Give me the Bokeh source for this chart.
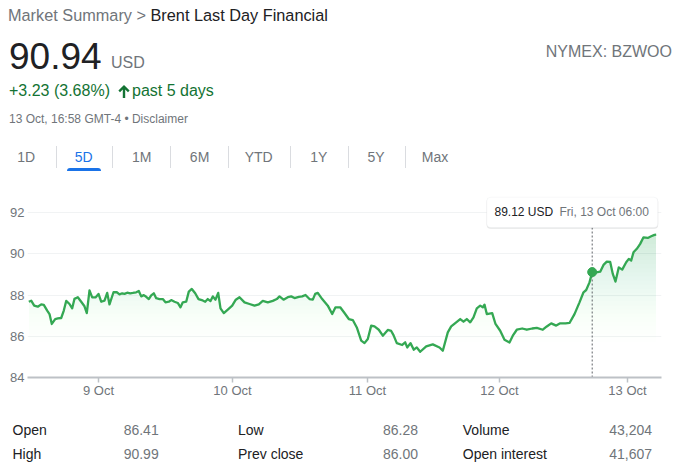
import html
import numpy as np
from bokeh.plotting import figure
from bokeh.models import Range1d, FixedTicker, Div, Label, BoxAnnotation
from bokeh.layouts import column
from bokeh.embed import file_html
from bokeh.resources import INLINE

# ---------------- data ----------------
# t: sample position along the 5-day session axis (chart units, ~134 per day)
t = [0.3, 2.7, 5.7, 9.3, 12.7, 15.3, 18.7, 21, 23.3, 26.7, 29.3, 32.7, 35.3, 37.7, 41, 43.7,
     46, 49.3, 52.7, 56, 58.3, 61, 63.7, 67, 70, 72.7, 76, 78.7, 81, 85, 88.3, 91, 93.7, 96,
     98.7, 101.7, 104.3, 107.7, 110.3, 112.7, 115.3, 117.7, 120.3, 122.7, 125.3, 127.7, 131,
     134.3, 137, 140.3, 142.7, 146, 149.3, 152, 154.3, 157.7, 160.3, 163.3, 166.7, 170, 173.3,
     176.7, 179.3, 182, 184.3, 187, 189.7, 192, 195.3, 199.3, 203.7, 207.3, 211, 216, 221, 226,
     230.3, 234.3, 239.3, 244.3, 248.3, 251, 255, 259.3, 262.7, 266, 270.3, 273.7, 277, 281,
     284.3, 286.7, 289.3, 293.7, 299.3, 303.7, 307, 311.7, 316, 320.3, 324.3, 328.3, 332.7, 336,
     339.3, 342.7, 346, 350.3, 354.3, 359.3, 362.7, 365, 368.3, 373.7, 376.7, 378.7, 382, 385.3,
     388.3, 391.7, 397.7, 404.3, 411, 414.3, 419.3, 422.7, 427.7, 431.7, 435, 438.3, 441.7, 445,
     448.3, 451.7, 454.3, 456, 458.3, 463.7, 467, 471.7, 476, 481, 484.3, 488.3, 493.7, 498.3,
     503.7, 508.3, 514.3, 518.3, 522.7, 527.7, 531.7, 537, 541, 546, 551, 555, 557.7, 561, 563.7,
     567.7, 571.7, 575, 578.3, 581.7, 584.3, 587, 590.3, 593.7, 597.7, 600.3, 602.7, 605, 608.3,
     611.7, 615, 619.3, 622.7, 626, 627.7]
price = [87.68, 87.73, 87.49, 87.44, 87.55, 87.53, 87.25, 87.08, 86.60, 86.84, 86.87, 86.89,
         87.25, 87.72, 87.57, 87.36, 87.82, 87.90, 87.68, 87.46, 87.13, 88.23, 87.89, 87.89,
         88.06, 87.68, 87.73, 88.11, 87.55, 88.14, 88.14, 88.04, 88.09, 88.06, 88.12, 88.09,
         88.11, 88.14, 88.20, 87.94, 88.00, 87.92, 87.81, 87.99, 88.09, 87.85, 87.81, 87.81,
         87.65, 87.68, 87.76, 87.68, 87.62, 87.41, 87.65, 87.68, 88.17, 88.30, 88.09, 87.81,
         87.76, 87.68, 87.81, 87.71, 87.94, 87.78, 88.11, 87.36, 87.13, 87.30, 87.49, 87.78,
         87.90, 87.65, 87.57, 87.49, 87.55, 87.72, 87.65, 87.72, 87.81, 87.94, 87.78, 87.90,
         87.94, 87.86, 87.92, 87.94, 88.01, 87.81, 87.78, 88.06, 88.11, 87.81, 87.49, 87.08,
         87.41, 87.41, 87.13, 86.84, 86.79, 86.43, 85.79, 85.67, 85.87, 86.52, 86.48, 86.32,
         86.03, 86.31, 86.26, 86.06, 85.67, 85.58, 85.71, 85.46, 85.67, 85.35, 85.46, 85.25,
         85.51, 85.61, 85.46, 85.30, 86.19, 86.48, 86.68, 86.84, 86.71, 86.84, 86.68, 86.92,
         87.36, 87.49, 87.41, 87.54, 87.08, 87.13, 86.60, 86.27, 85.83, 85.70, 86.03, 86.32,
         86.38, 86.32, 86.38, 86.41, 86.32, 86.48, 86.63, 86.52, 86.63, 86.63, 86.65, 87.08,
         87.65, 88.14, 88.25, 88.62, 89.12, 89.11, 89.14, 89.47, 89.63, 89.61, 89.03, 88.66,
         89.35, 89.24, 89.60, 89.76, 89.68, 90.08, 90.25, 90.49, 90.81, 90.78, 90.86, 90.93,
         90.94]

day_ticks = [70, 204, 339, 471, 599]
day_labels = ["9 Oct", "10 Oct", "11 Oct", "12 Oct", "13 Oct"]
y_ticks = [84, 86, 88, 90, 92]

hover_t = 563.7
hover_price = 89.12
hover_currency = "USD"
hover_time = "Fri, 13 Oct 06:00"

title_prefix = "Market Summary > "
title_name = "Brent Last Day Financial"
last_price = "90.94"
currency = "USD"
change_text = "+3.23 (3.68%)"
period_text = "past 5 days"
timestamp_text = "13 Oct, 16:58 GMT-4 • Disclaimer"
exchange_text = "NYMEX: BZWOO"
tabs = ["1D", "5D", "1M", "6M", "YTD", "1Y", "5Y", "Max"]
active_tab = "5D"
stat_labels = ["Open", "High", "Low", "Prev close", "Volume", "Open interest"]
stat_values = ["86.41", "90.99", "86.28", "86.00", "43,204", "41,607"]

# ---------------- styles ----------------
FONT = "'Liberation Sans', Arial, sans-serif"
DARK = "#202124"
GREY = "#70757a"
GREEN_TXT = "#137333"
BLUE = "#1a73e8"
LINE = "#34a853"
W = 673
DX = 3      # horizontal nudge for html blocks
DY = 3.5    # vertical nudge for header text


def span(text, top, size, color, left=None, right=None, extra=""):
    pos = f"left:{left + DX}px;" if left is not None else f"right:{right - DX}px;"
    return (f'<span style="position:absolute;{pos}top:{top}px;font-size:{size}px;'
            f'line-height:{size}px;color:{color};white-space:nowrap;{extra}">{text}</span>')


# ---------------- header ----------------
parts = []
parts.append(span(f'<span style="color:{GREY}">{html.escape(title_prefix)}</span>'
                  f'<span style="color:{DARK}">{html.escape(title_name)}</span>',
                  top=-1.5 + DY, size=16.3, color=DARK, left=0))
parts.append(span(last_price, top=29 + DY, size=37, color=DARK, left=1))
parts.append(span(currency, top=46.5 + DY, size=16, color=GREY, left=103))
parts.append(span(exchange_text, top=35 + DY, size=16, color=GREY, right=9))
parts.append(span(html.escape(change_text), top=74.2 + DY, size=16, color=GREEN_TXT, left=1))
parts.append(f'<svg style="position:absolute;left:{110 + DX}px;top:{76 + DY}px" width="12" height="13" '
             'viewBox="0 0 12 13"><path d="M6 0 L11.6 5.6 L10 7.2 L7.2 4.4 L7.2 13 L4.8 13 '
             f'L4.8 4.4 L2 7.2 L0.4 5.6 Z" fill="{GREEN_TXT}"/></svg>')
parts.append(span(period_text, top=74.2 + DY, size=16, color=GREEN_TXT, left=124))
parts.append(span(html.escape(timestamp_text), top=104.1 + DY, size=12, color=GREY, left=1))

tab_centers = [18.2, 75.6, 133.8, 191.6, 250.7, 310.9, 368.0, 427.0]
sep_x = [47.6, 104.4, 162.2, 220.0, 281.8, 339.6, 397.3]
for lab, c in zip(tabs, tab_centers):
    col = BLUE if lab == active_tab else GREY
    parts.append(span(lab, top=141.8 + DY, size=14, color=col, left=c - 30,
                      extra="width:60px;text-align:center;"))
    if lab == active_tab:
        parts.append(f'<div style="position:absolute;left:{c - 17 + DX}px;top:{159 + DY}px;width:34px;'
                     f'height:3px;background:{BLUE};border-radius:3px 3px 0 0"></div>')
for sx in sep_x:
    parts.append(f'<div style="position:absolute;left:{sx + DX}px;top:{137 + DY}px;width:1px;height:22px;'
                 f'background:#dadce0"></div>')

HEADER_H = 175
header_html = (f'<div style="position:relative;width:{W}px;height:{HEADER_H}px;font-family:{FONT};">'
               + "".join(parts) + "</div>")
header = Div(text=header_html, width=W, height=HEADER_H)

# ---------------- chart ----------------
p = figure(width=W, height=230, output_backend="svg", toolbar_location=None,
           x_range=Range1d(-1, 633), y_range=Range1d(84, 92.84),
           min_border_left=27, min_border_right=12, min_border_top=10, min_border_bottom=38)
p.outline_line_color = None
p.background_fill_color = "white"
p.border_fill_color = "white"

# gradient fill under line (stacked translucent bands)
tt = np.array(t)
pp = np.array(price)
levels = np.arange(85.3, 91.01, 0.2)
A = 0.22 * np.clip((levels - 85.2) / 5.8, 0, 1) ** 1.6
prev = 0.0
for L, a_cum in zip(levels, A):
    a = 1 - (1 - a_cum) / (1 - prev)
    prev = a_cum
    p.varea(x=tt, y1=L, y2=np.maximum(pp, L), fill_color=LINE, fill_alpha=float(a))

p.line(x=t, y=price, line_color=LINE, line_width=2.3, line_join="round")

# hover marker + tooltip
p.segment(x0=[hover_t], y0=[84], x1=[hover_t], y1=[91.28], line_color="#5f6368",
          line_width=1, line_dash="2 2")
p.scatter(x=[hover_t], y=[hover_price], size=9, fill_color=LINE, line_color=LINE)

shadow = BoxAnnotation(left=hover_t - 105.6, right=hover_t + 66.0, bottom=91.22, top=92.73,
                       fill_color="black", fill_alpha=0.10, line_color=None, border_radius=4)
box = BoxAnnotation(left=hover_t - 105.4, right=hover_t + 65.6, bottom=91.28, top=92.76,
                    fill_color="white", fill_alpha=1.0, line_color="#e8eaed", line_width=1,
                    border_radius=4)
p.add_layout(shadow)
p.add_layout(box)
p.add_layout(Label(x=hover_t, y=92.02, x_offset=-97.7, text=f"{hover_price:.2f} {hover_currency}",
                   text_font="Liberation Sans", text_font_size="12px",
                   text_color=DARK, text_baseline="middle"))
p.add_layout(Label(x=hover_t, y=92.02, x_offset=-32.7, text=hover_time,
                   text_font="Liberation Sans", text_font_size="12px",
                   text_color=GREY, text_baseline="middle"))

# axes
p.xaxis.ticker = FixedTicker(ticks=day_ticks)
p.xaxis.major_label_overrides = {k: v for k, v in zip(day_ticks, day_labels)}
p.xaxis.axis_line_color = "#bdc1c6"
p.xaxis.axis_line_width = 2
p.xaxis.major_tick_line_color = "#bdc1c6"
p.xaxis.major_tick_line_width = 1.5
p.xaxis.major_tick_out = 5
p.xaxis.major_tick_in = 0
p.xaxis.minor_tick_line_color = None
p.xaxis.major_label_standoff = 0
p.yaxis.ticker = FixedTicker(ticks=y_ticks)
p.yaxis.axis_line_color = None
p.yaxis.major_tick_line_color = None
p.yaxis.minor_tick_line_color = None
p.yaxis.major_tick_out = 0
p.yaxis.major_tick_in = 0
p.yaxis.major_label_standoff = 3
for ax in (p.xaxis, p.yaxis):
    ax.major_label_text_font = "Liberation Sans"
    ax.major_label_text_font_size = "13px"
    ax.major_label_text_color = GREY
p.xgrid.visible = False
p.ygrid.ticker = FixedTicker(ticks=y_ticks)
p.ygrid.grid_line_color = "#f1f3f4"
p.ygrid.grid_line_width = 1

# ---------------- stats table ----------------
tparts = []
col_left = [4.5, 230, 454.8]
col_right = [W - 150.7, W - 410, W - 644]
row_top = [3.2, 27.2]
for i in range(6):
    c, r = divmod(i, 2)
    tparts.append(span(html.escape(stat_labels[i]), top=row_top[r], size=14, color=DARK, left=col_left[c]))
    tparts.append(span(html.escape(stat_values[i]), top=row_top[r], size=14, color=GREY, right=col_right[c]))
TABLE_H = 51
table_html = (f'<div style="position:relative;width:{W}px;height:{TABLE_H}px;font-family:{FONT};">'
              + "".join(tparts) + "</div>")
table = Div(text=table_html, width=W, height=TABLE_H)

layout = column(header, p, table, spacing=0)
open("out.html", "w").write(file_html(layout, INLINE))
